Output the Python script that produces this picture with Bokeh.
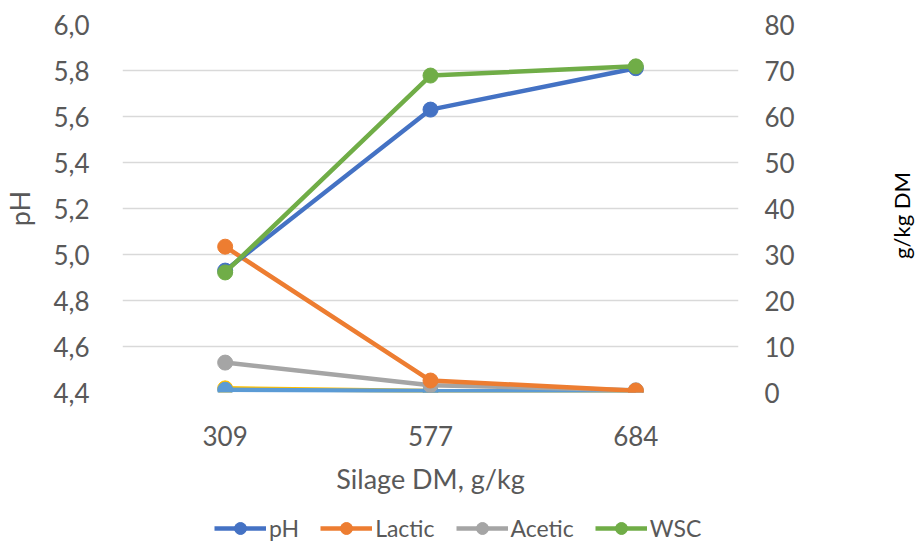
import math
from bokeh.plotting import figure
from bokeh.layouts import column, row
from bokeh.models import (FactorRange, Range1d, LinearAxis, FixedTicker, CustomJSTickFormatter,
                          Legend, LegendItem, ColumnDataSource, Label)
from bokeh.embed import file_html
from bokeh.resources import INLINE

categories = ["309", "577", "684"]
ph = [4.93, 5.63, 5.81]
lactic = [31.7, 2.6, 0.4]
acetic = [6.5, 1.6, 0.5]
wsc = [26.1, 68.9, 70.9]
other1 = [0.9, 0.3, 0.2]   # yellow series (not in legend)
other2 = [0.6, 0.3, 0.2]   # light blue series (not in legend)
left_ticks = [4.4, 4.6, 4.8, 5.0, 5.2, 5.4, 5.6, 5.8, 6.0]
right_ticks = [0, 10, 20, 30, 40, 50, 60, 70, 80]
legend_labels = ["pH", "Lactic", "Acetic", "WSC"]

FONT = "Lato"
GRAY = "#595959"

# ---------------- main chart ----------------
p = figure(width=858, height=505, x_range=FactorRange(*categories, range_padding=0),
           y_range=Range1d(4.4, 6.0), output_backend="svg", toolbar_location=None,
           min_border_left=117, min_border_right=120, min_border_top=24, min_border_bottom=113)
p.outline_line_color = None
p.background_fill_color = "white"
p.border_fill_color = "white"
p.extra_y_ranges = {"g": Range1d(0, 80)}

p.xgrid.grid_line_color = None
p.ygrid.grid_line_color = "#D9D9D9"
p.ygrid.grid_line_width = 1.5
p.ygrid.ticker = FixedTicker(ticks=left_ticks)

ya = p.yaxis[0]
ya.ticker = FixedTicker(ticks=left_ticks)
ya.formatter = CustomJSTickFormatter(code="return tick.toFixed(1).replace('.', ',');")
ya.axis_label = "pH"

ra = LinearAxis(y_range_name="g", ticker=FixedTicker(ticks=right_ticks))
p.add_layout(ra, "right")

xa = p.xaxis[0]
xa.axis_label = "Silage DM, g/kg"

for ax in [ya, ra, xa]:
    ax.axis_line_color = None
    ax.major_tick_line_color = None
    ax.minor_tick_line_color = None
    ax.major_label_text_font = FONT
    ax.major_label_text_font_size = "26px"
    ax.major_label_text_color = GRAY
    ax.axis_label_text_font = FONT
    ax.axis_label_text_font_size = "27px"
    ax.axis_label_text_font_style = "normal"
    ax.axis_label_text_color = GRAY
ya.major_label_standoff = 27
ra.major_label_standoff = 20
ya.axis_label_standoff = 14
xa.major_label_standoff = 27
xa.axis_label_standoff = 13

src = ColumnDataSource(dict(x=categories, ph=ph, lactic=lactic, acetic=acetic, wsc=wsc,
                            o1=other1, o2=other2))

specs = [("o1", "#FFC000", "g", None), ("o2", "#5B9BD5", "g", None),
         ("acetic", "#A5A5A5", "g", "Acetic"), ("lactic", "#ED7D31", "g", "Lactic"),
         ("ph", "#4472C4", "default", "pH"), ("wsc", "#70AD47", "g", "WSC")]
for col, color, rng, label in specs:
    p.line("x", col, source=src, line_color=color, line_width=4.5, y_range_name=rng)
    p.scatter("x", col, source=src, size=15, fill_color=color, line_color=color,
              y_range_name=rng)

# ---------------- right axis title ----------------
pr = figure(width=57, height=505, output_backend="svg", toolbar_location=None,
            x_axis_location=None, y_axis_location=None, min_border=0,
            x_range=Range1d(0, 1), y_range=Range1d(0, 1))
pr.outline_line_color = None
pr.grid.visible = False
pr.add_layout(Label(x=43, y=177, x_units="screen", y_units="screen", text="g/kg DM",
                    angle=math.pi / 2, text_align="center", text_baseline="middle",
                    text_font=FONT, text_font_size="22px", text_color="black"))

# ---------------- legend strip ----------------
pl = figure(width=915, height=42, output_backend="svg", toolbar_location=None,
            x_axis_location=None, y_axis_location=None, min_border=0,
            x_range=FactorRange(*categories), y_range=Range1d(-1000, -999))
pl.outline_line_color = None
pl.grid.visible = False
leg_colors = {"pH": "#4472C4", "Lactic": "#ED7D31", "Acetic": "#A5A5A5", "WSC": "#70AD47"}
leg_cols = {"pH": "ph", "Lactic": "lactic", "Acetic": "acetic", "WSC": "wsc"}
items = []
for lab in legend_labels:
    c = leg_colors[lab]
    l = pl.line("x", leg_cols[lab], source=src, line_color=c, line_width=4.5)
    s = pl.scatter("x", leg_cols[lab], source=src, size=15, fill_color=c, line_color=c)
    items.append(LegendItem(label=lab, renderers=[l, s]))

leg = Legend(items=items, orientation="horizontal", location=(214, 4),
             label_text_font=FONT, label_text_font_size="23px", label_text_color=GRAY,
             glyph_width=52, glyph_height=30, spacing=21, label_standoff=3,
             border_line_color=None, background_fill_alpha=0, padding=0, margin=0)
pl.add_layout(leg, "center")

layout = column(row(p, pr), pl)
open("out.html", "w").write(file_html(layout, INLINE))
